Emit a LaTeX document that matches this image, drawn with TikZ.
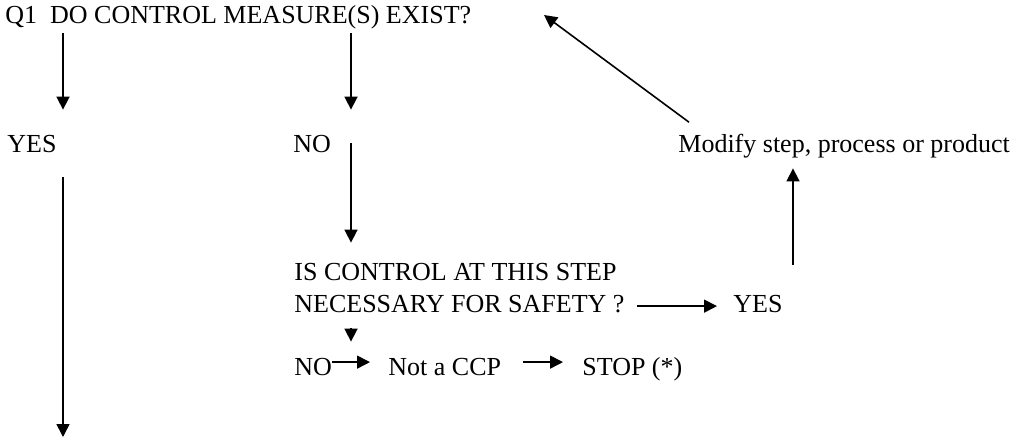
\documentclass[tikz,border=0pt]{standalone}
\usepackage{fontspec}
\setmainfont{Liberation Serif}
\usetikzlibrary{arrows.meta, calc}

\begin{document}
\begin{tikzpicture}[
    x=0.5pt, y=-0.5pt,
    every node/.style={font=\fontsize{13}{16}\selectfont},
    lbl/.style={inner sep=0pt, anchor=base west, text height=8.7pt, text depth=2.8pt},
    arr/.style={draw, line width=0.8pt, -{Triangle[length=6.5pt, width=6.5pt]}}
]
    \useasboundingbox (0,0) rectangle (1012,440);

    % Questions and answers
    \node[lbl] (q1) at (5,23) {Q1\ \ DO CONTROL MEASURE(S) EXIST?};
    \node[lbl] (yesL) at (7,152) {YES};
    \node[lbl] (noT) at (293,152) {NO};
    \node[lbl] (modify) at (678,152) {Modify step, process or product};
    \node[lbl] (ctlA) at (294,280) {IS CONTROL AT THIS STEP};
    \node[lbl] (ctlB) at (294,312) {NECESSARY FOR SAFETY ?};
    \node[lbl] (yesR) at (733,312) {YES};
    \node[lbl] (noB) at (294,375) {NO};
    \node[lbl] (notccp) at (388,375) {Not a CCP};
    \node[lbl] (stop) at (582,375) {STOP (*)};

    % Columns and free ends
    \coordinate (colA) at (63,0);
    \coordinate (colB) at (351,0);
    \coordinate (colC) at (793,0);
    \coordinate (yesEnd) at (63,437);
    \coordinate (backTip) at (544,15);

    % Arrows
    \draw[arr, shorten <=2.2pt, shorten >=12.3pt] (q1.south -| colA) -- (yesL.north -| colA);
    \draw[arr, shorten <=2.2pt, shorten >=12.3pt] (q1.south -| colB) -- (noT.north -| colB);
    \draw[arr, shorten <=-1.5pt, shorten >=9.8pt] (noT.east -| colB) -- (ctlA.north -| colB);
    \draw[arr, shorten <=9.7pt] (yesL.south -| colA) -- (yesEnd);
    \draw[arr, shorten <=5.2pt, shorten >=7.8pt] (ctlB.south -| colB) -- (noB.north -| colB);
    \draw[arr, shorten <=6pt, shorten >=8pt] (ctlB.east) -- (yesR.west);
    \draw[arr, shorten >=9pt] ([yshift=3.5pt]noB.east) -- ([yshift=3.5pt]notccp.west);
    \draw[arr, shorten <=11pt, shorten >=9.5pt] ([yshift=3.5pt]notccp.east) -- ([yshift=3.5pt]stop.west);
    \draw[arr, shorten <=14.8pt, shorten >=5.2pt] (yesR.north -| colC) -- (modify.south -| colC);
    \draw[arr] ($(modify.north west)+(11,-12)$) -- (backTip);

\end{tikzpicture}
\end{document}
